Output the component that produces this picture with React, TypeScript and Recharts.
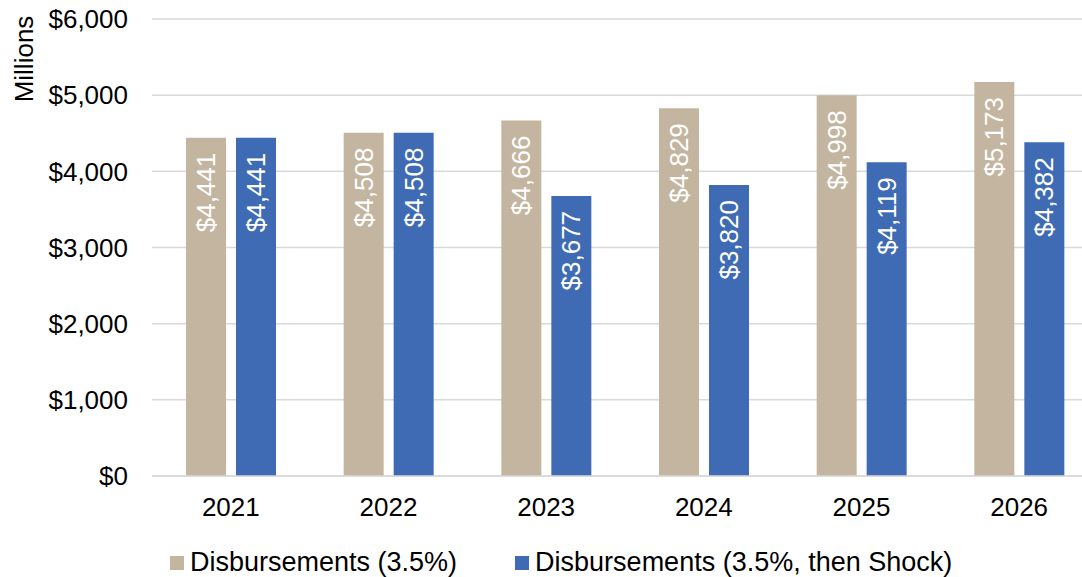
import { BarChart, Bar, XAxis, YAxis, CartesianGrid, Legend, LabelList, Label } from "recharts";

const years = ["2021", "2022", "2023", "2024", "2025", "2026"]
const baseline = [4441, 4508, 4666, 4829, 4998, 5173]
const shocked = [4441, 4508, 3677, 3820, 4119, 4382]
const yTicks = [0, 1000, 2000, 3000, 4000, 5000, 6000]

const FONT = "'Liberation Sans', Arial, sans-serif"
const TAN = "#C4B5A0"
const BLUE = "#3E6BB4"

const data = years.map((year, i) => ({ year, baseline: baseline[i], shocked: shocked[i] }))

const series = [
    { key: "baseline", name: "Disbursements (3.5%)", color: TAN },
    { key: "shocked", name: "Disbursements (3.5%, then Shock)", color: BLUE },
]

const money = (v: number) => "$" + v.toLocaleString("en-US")

const BarValue = (props: any) => {
    const { x, y, width, value } = props
    const bx = x + width / 2 + 9
    const by = y + 15
    return (
        <text x={bx} y={by} transform={`rotate(-90, ${bx}, ${by})`} textAnchor="end"
            fill="#fff" fontSize={26} fontFamily={FONT}>
            {money(value)}
        </text>
    )
}

const renderLegend = () => (
    <div style={{ position: "relative", top: 6, display: "flex", alignItems: "center", paddingLeft: 170, height: 41, fontFamily: FONT, fontSize: 27, color: "#000" }}>
        {series.map((s, i) => (
            <div key={s.key} style={{ display: "flex", alignItems: "center", marginRight: i === 0 ? 58 : 0 }}>
                <span style={{ display: "inline-block", width: 14, height: 14, background: s.color, marginRight: 6 }} />
                {s.name}
            </div>
        ))}
    </div>
)

export default function App() {
    return (
        <div style={{ position: "absolute", left: 0, top: 0, width: 1082, height: 577, overflow: "hidden", background: "#fff" }}>
            <BarChart width={1098} height={577} data={data} margin={{ top: 19, right: 0, left: 0, bottom: 0 }}
                barSize={40} barGap={10}>
                <CartesianGrid vertical={false} stroke="#D9D9D9" strokeWidth={1.5} />
                <XAxis dataKey="year" height={60} axisLine={{ stroke: "#D9D9D9", strokeWidth: 1.5 }} tickLine={false}
                    tickSize={0} tickMargin={22} tick={{ fill: "#000", fontSize: 26, fontFamily: FONT }} />
                <YAxis width={152} domain={[0, 6000]} ticks={yTicks} axisLine={false} tickLine={false}
                    tickSize={0} tickMargin={24} tickFormatter={money} interval={0}
                    tick={{ fill: "#000", fontSize: 26, fontFamily: FONT }}>
                    <Label content={() => (
                        <text x={33} y={59} transform="rotate(-90, 33, 59)" textAnchor="middle"
                            fill="#000" fontSize={26} fontFamily={FONT}>Millions</text>
                    )} />
                </YAxis>
                <Legend verticalAlign="bottom" height={41} content={renderLegend} />
                {series.map(s => (
                    <Bar key={s.key} dataKey={s.key} name={s.name} fill={s.color} isAnimationActive={false}>
                        <LabelList dataKey={s.key} content={BarValue} />
                    </Bar>
                ))}
            </BarChart>
        </div>
    )
}
